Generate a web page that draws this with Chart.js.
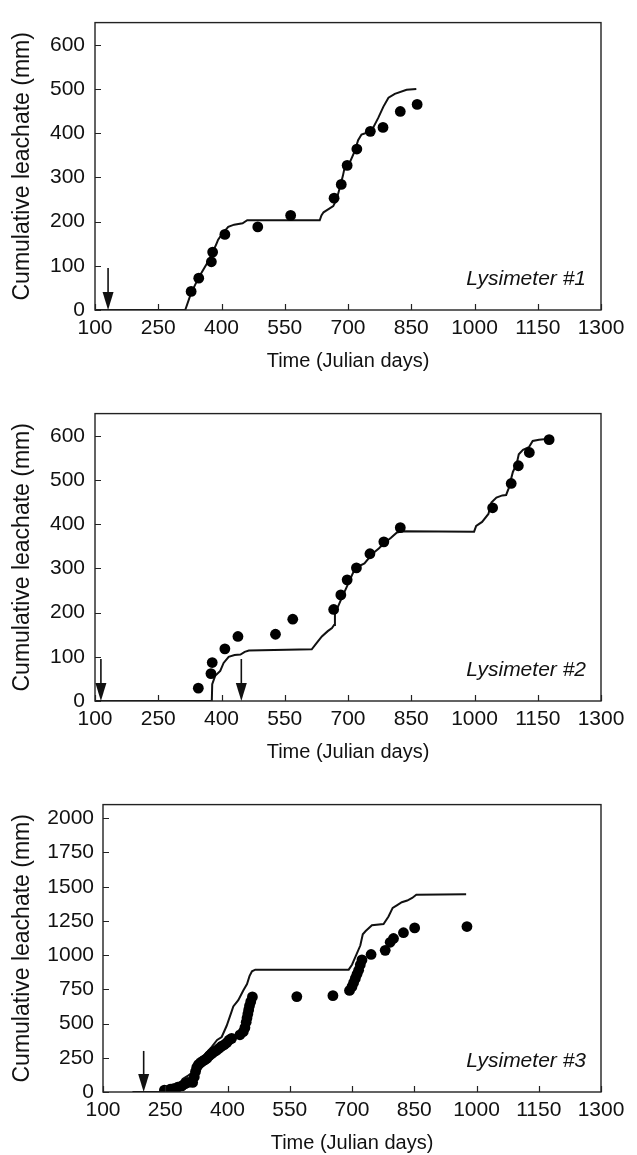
<!DOCTYPE html>
<html><head><meta charset="utf-8">
<script src="https://cdn.jsdelivr.net/npm/chart.js@4.4.0/dist/chart.umd.min.js"></script>
<style>
html,body{margin:0;padding:0;background:#fff;overflow:hidden;width:637px;height:1155px;}
canvas{position:absolute;left:0;display:block;}
</style></head><body>
<canvas id="c1" width="637" height="380" style="top:0px"></canvas>
<canvas id="c2" width="637" height="380" style="top:391px"></canvas>
<canvas id="c3" width="637" height="372" style="top:783px"></canvas>
<script>
// ---- Data ----
const xTickMin = 100, xTickMax = 1300, xTickStep = 150;

// Lysimeter #1
const lys1ObsDay = [328,346,376,379,408,486,564,667,684,698,721,753,783,824,864];
const lys1ObsMm  = [42,72,109,131,171,188,214,253,284,327,364,404,413,449,465];
const lys1SimDay = [100,314,327,345,363,379,389,392,400,416,430,450,461,480,633,637,642,665,673,680,688,692,704,716,724,732,748,760,772,784,796,811,839,862];
const lys1SimMm  = [0,0,36,72,101,130,152,159,170,188,193,196,203,203,203,214,221,235,250,275,304,322,333,359,384,397,402,413,435,460,480,489,498,500];
const lys1Arrows = [131];

// Lysimeter #2
const lys2ObsDay = [345,375,378,408,439,528,569,666,683,698,720,752,785,824,1043,1087,1104,1130,1177];
const lys2ObsMm  = [29,62,87,118,146,151,185,207,240,274,301,333,360,392,437,492,532,562,591];
const lys2SimDay = [100,377,378,385,397,405,417,431,445,455,465,614,624,638,652,662,667,669,676,686,696,705,713,724,739,758,773,787,802,816,830,999,1004,1018,1033,1040,1052,1066,1075,1081,1091,1100,1105,1115,1129,1138,1153,1177];
const lys2SimMm  = [0,0,38,57,68,86,100,104,105,111,114,117,129,146,158,165,172,198,213,235,256,275,292,304,311,333,345,358,369,381,384,383,396,405,423,449,460,465,466,481,518,536,558,568,574,588,591,593];
const lys2Arrows = [114,447];

// Lysimeter #3
const lys3ObsDay = [248,262,270,280,290,298,305,316,320,323,326,330,335,340,345,350,356,362,368,374,380,386,392,398,404,410,430,438,442,445,447,449,451,453,456,460,567,654,694,700,704,708,712,716,720,724,746,780,792,800,824,851,977];
const lys3ObsMm  = [14,20,25,35,45,60,70,70,110,150,180,200,215,225,235,245,265,280,295,305,320,335,345,360,380,392,418,440,470,510,540,570,600,630,660,695,697,704,742,770,800,830,860,890,930,965,1005,1035,1094,1122,1164,1199,1209];
const lys3SimDay = [171,245,262,280,292,305,312,322,335,350,362,375,386,398,410,414,426,438,447,453,459,467,692,700,710,720,726,733,748,776,788,798,808,820,833,845,855,975];
const lys3SimMm  = [0,0,20,40,95,120,135,210,240,290,330,380,402,484,589,625,671,742,789,847,882,894,894,930,1000,1070,1153,1176,1218,1228,1282,1345,1364,1387,1399,1418,1441,1445];
const lys3Arrows = [198];

const FONT = "'Liberation Sans', Arial, Helvetica, sans-serif";
const INK = '#111';

const framePlugin = {
  id: 'frame',
  afterDatasetsDraw(chart, args, o) {
    const {ctx, chartArea: a} = chart;
    const xs = chart.scales.x, ys = chart.scales.y;
    ctx.save();
    ctx.strokeStyle = '#222';
    ctx.lineWidth = 1.4;
    ctx.strokeRect(a.left, a.top, a.right - a.left, a.bottom - a.top);
    ctx.lineWidth = 1.2;
    ctx.beginPath();
    xs.ticks.forEach(t => {
      const px = Math.round(xs.getPixelForValue(t.value)) + 0.5;
      ctx.moveTo(px, a.bottom); ctx.lineTo(px, a.bottom - 6);
    });
    ys.ticks.forEach(t => {
      const py = Math.round(ys.getPixelForValue(t.value)) + 0.5;
      ctx.moveTo(a.left, py); ctx.lineTo(a.left + 6, py);
    });
    ctx.stroke();
    // arrows
    ctx.fillStyle = INK; ctx.strokeStyle = INK; ctx.lineWidth = 1.6;
    o.arrows.forEach(d => {
      const x = xs.getPixelForValue(d);
      const yt = ys.getPixelForValue(o.arrowTop);
      const yb = ys.getPixelForValue(0);
      ctx.beginPath(); ctx.moveTo(x, yt); ctx.lineTo(x, yb - 16); ctx.stroke();
      ctx.beginPath(); ctx.moveTo(x - 5.5, yb - 18); ctx.lineTo(x + 5.5, yb - 18); ctx.lineTo(x, yb); ctx.closePath(); ctx.fill();
    });
    // label
    ctx.fillStyle = INK;
    ctx.font = 'italic 21px ' + FONT;
    ctx.textAlign = 'right'; ctx.textBaseline = 'middle';
    ctx.fillText(o.label, a.right - 15, a.bottom - 31);
    ctx.restore();
  }
};

function pts(xs, ys) { return xs.map((x, i) => ({x: x, y: ys[i]})); }
const plain = v => String(v);

function make(id, cfg) {
  new Chart(document.getElementById(id), {
    type: 'scatter',
    data: {
      datasets: [
        {data: pts(cfg.simDay, cfg.simMm), showLine: true, borderColor: INK, borderWidth: 2, pointRadius: 0, fill: false, tension: 0, order: 2},
        {data: pts(cfg.obsDay, cfg.obsMm), pointRadius: 5.4, pointHoverRadius: 5.4, backgroundColor: '#000', borderWidth: 0, order: 1}
      ]
    },
    options: {
      responsive: false, animation: false,
      layout: {padding: {top: 11, right: 36, left: 0, bottom: 0}},
      plugins: {legend: {display: false}, tooltip: {enabled: false},
        frame: {arrows: cfg.arrows, arrowTop: cfg.arrowTop, label: cfg.label}},
      scales: {
        x: {type: 'linear', min: xTickMin, max: xTickMax,
          grid: {display: false, drawTicks: false, tickLength: 0}, border: {display: false},
          ticks: {stepSize: xTickStep, callback: plain, color: INK, font: {family: FONT, size: 21}, padding: 6, maxRotation: 0, autoSkip: false, includeBounds: false},
          title: {display: true, text: 'Time (Julian days)', color: INK, font: {family: FONT, size: 20}, padding: {top: 0, bottom: cfg.titlePadB}},
          afterFit: s => { s.height = cfg.xAxisH; }
        },
        y: {type: 'linear', min: 0, max: cfg.yMax,
          grid: {display: false, drawTicks: false, tickLength: 0}, border: {display: false},
          ticks: {stepSize: cfg.yStep, callback: plain, color: INK, font: {family: FONT, size: 21}, padding: cfg.yPad, includeBounds: false, autoSkip: false},
          title: {display: true, text: 'Cumulative leachate (mm)', color: INK, font: {family: FONT, size: 23}, padding: {top: 9, bottom: 0}},
          afterFit: s => { s.width = cfg.yAxisW; }
        }
      }
    },
    plugins: [framePlugin]
  });
}

make('c1', {obsDay: lys1ObsDay, obsMm: lys1ObsMm, simDay: lys1SimDay, simMm: lys1SimMm, arrows: lys1Arrows, arrowTop: 95, label: 'Lysimeter #1', yMax: 650, yStep: 100, yAxisW: 95, yPad: 10, xAxisH: 70, titlePadB: 7});
make('c2', {obsDay: lys2ObsDay, obsMm: lys2ObsMm, simDay: lys2SimDay, simMm: lys2SimMm, arrows: lys2Arrows, arrowTop: 95, label: 'Lysimeter #2', yMax: 650, yStep: 100, yAxisW: 95, yPad: 10, xAxisH: 70, titlePadB: 7});
make('c3', {obsDay: lys3ObsDay, obsMm: lys3ObsMm, simDay: lys3SimDay, simMm: lys3SimMm, arrows: lys3Arrows, arrowTop: 300, label: 'Lysimeter #3', yMax: 2100, yStep: 250, yAxisW: 103, yPad: 9, xAxisH: 63, titlePadB: 0});
</script>
</body></html>
